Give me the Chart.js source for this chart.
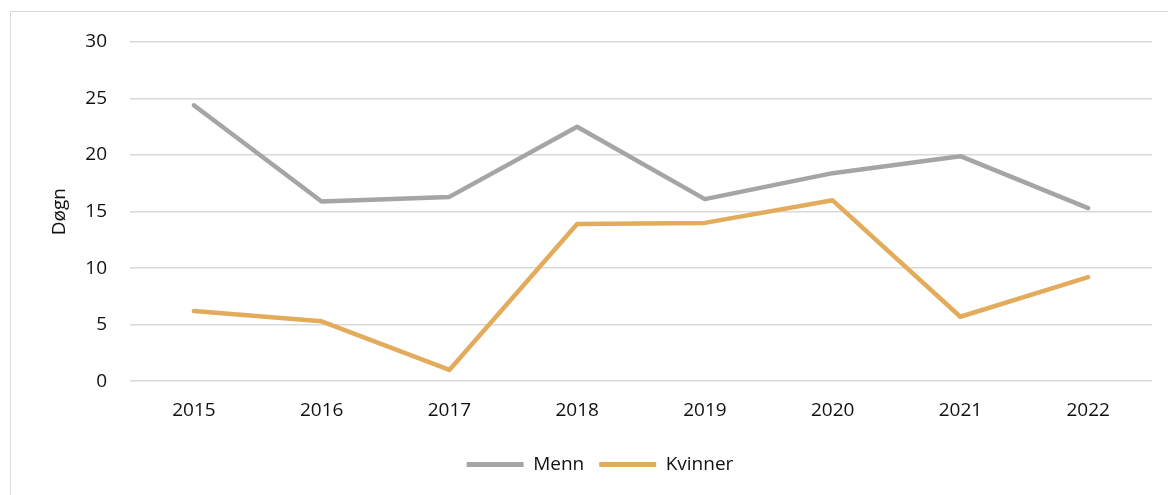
<!DOCTYPE html>
<html>
<head>
<meta charset="utf-8">
<script src="https://cdn.jsdelivr.net/npm/chart.js@4"></script>
<style>
    html, body { margin: 0; padding: 0; background: #fff; overflow: hidden; }
    #frame { position: absolute; left: 10px; top: 11px; width: 1180px; height: 500px; border: 1px solid #d9d9d9; }
    #wrap { position: absolute; left: 0; top: 0; width: 1168px; height: 495px; }
</style>
</head>
<body>
<div id="frame"></div>
<div id="wrap"><canvas id="chart"></canvas></div>
<script>
// Chart data
const years = ["2015", "2016", "2017", "2018", "2019", "2020", "2021", "2022"];
const menn = [24.4, 15.9, 16.3, 22.5, 16.1, 18.4, 19.9, 15.3];
const kvinner = [6.2, 5.3, 1.0, 13.9, 14.0, 16.0, 5.7, 9.2];
const yTicks = [0, 5, 10, 15, 20, 25, 30];

const fontFamily = "'Open Sans', sans-serif";
const textColor = "#111";

const ctx = document.getElementById("chart").getContext("2d");
new Chart(ctx, {
    type: "line",
    data: {
        labels: years,
        datasets: [
            {
                label: "Menn",
                data: menn,
                borderColor: "#a5a5a5",
                backgroundColor: "#a5a5a5",
                borderWidth: 4.5,
                borderCapStyle: "round",
                borderJoinStyle: "round",
                pointRadius: 0,
                tension: 0
            },
            {
                label: "Kvinner",
                data: kvinner,
                borderColor: "#e3ac5c",
                backgroundColor: "#e3ac5c",
                borderWidth: 4.5,
                borderCapStyle: "round",
                borderJoinStyle: "round",
                pointRadius: 0,
                tension: 0
            }
        ]
    },
    options: {
        responsive: true,
        maintainAspectRatio: false,
        animation: false,
        layout: {
            padding: { left: 48, right: 16, top: 42, bottom: 11 }
        },
        plugins: {
            tooltip: { enabled: false },
            legend: {
                position: "bottom",
                labels: {
                    color: textColor,
                    font: { family: fontFamily, size: 19 },
                    boxWidth: 57,
                    boxHeight: 5,
                    padding: 15,
                    generateLabels: function(chart) {
                        return Chart.defaults.plugins.legend.labels.generateLabels(chart).map(item => {
                            item.lineWidth = 0;
                            return item;
                        });
                    }
                }
            }
        },
        scales: {
            x: {
                offset: true,
                grid: { display: false, drawTicks: false },
                border: { display: false },
                ticks: {
                    color: textColor,
                    font: { family: fontFamily, size: 19 },
                    padding: 18,
                    maxRotation: 0
                }
            },
            y: {
                min: 0,
                max: 30,
                afterFit: function(scale) { scale.width = 82; },
                afterBuildTicks: function(scale) {
                    scale.ticks = yTicks.map(v => ({ value: v }));
                },
                grid: { color: "#d9d9d9", lineWidth: 1.5, drawTicks: false },
                border: { display: false },
                ticks: {
                    color: textColor,
                    font: { family: fontFamily, size: 19 },
                    padding: 23
                },
                title: {
                    display: true,
                    text: "Døgn",
                    color: textColor,
                    font: { family: fontFamily, size: 19 },
                    padding: 0
                }
            }
        }
    }
});
</script>
</body>
</html>
